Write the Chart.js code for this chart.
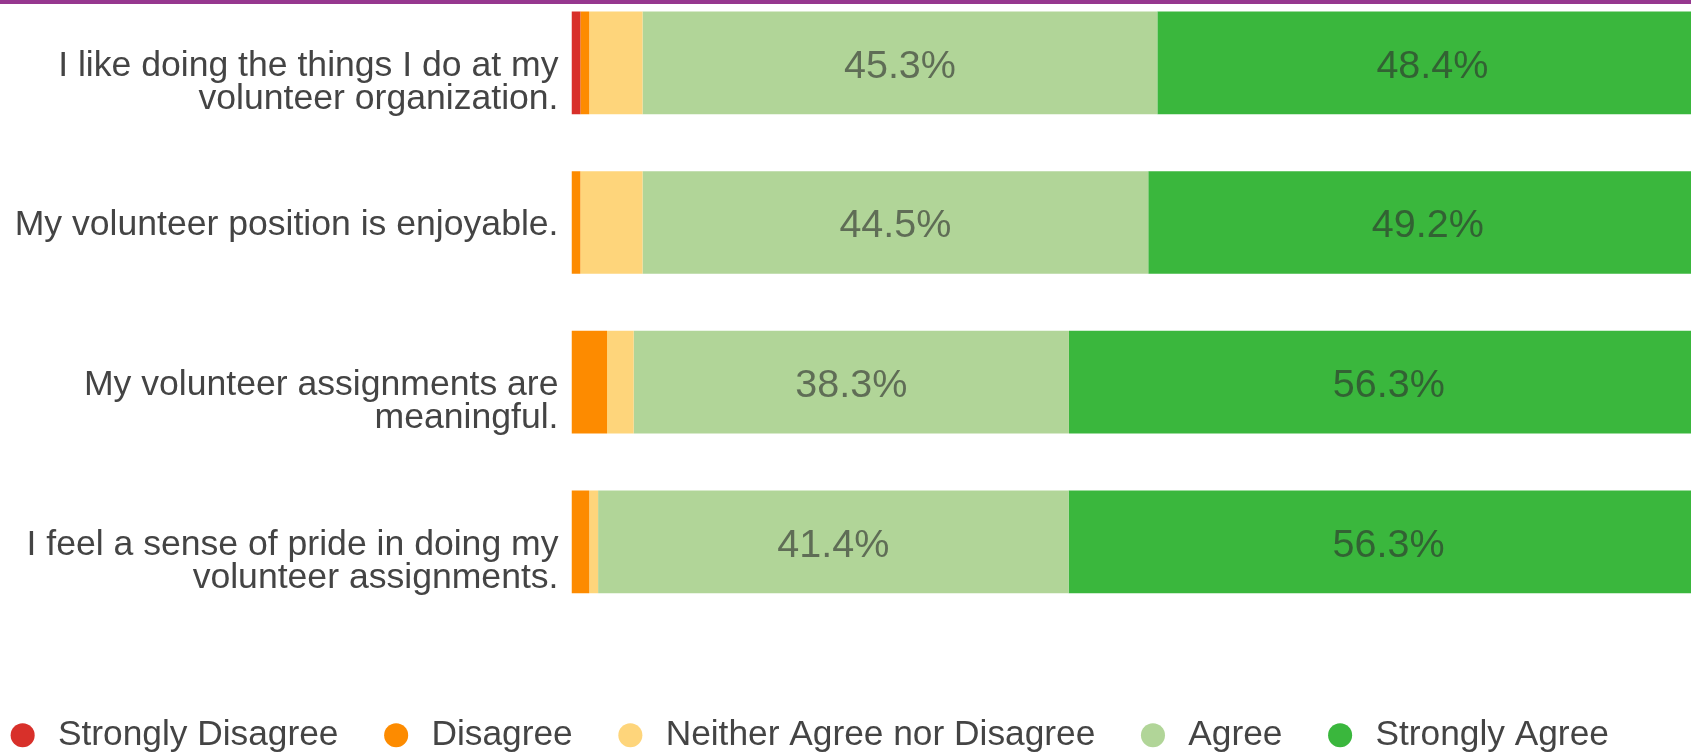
<!DOCTYPE html>
<html>
<head>
<meta charset="utf-8">
<script src="https://cdn.jsdelivr.net/npm/chart.js@4/dist/chart.umd.min.js"></script>
<style>
  html, body { margin: 0; padding: 0; background: #ffffff; overflow: hidden; width: 1691px; height: 752px; }
  #topline { position: absolute; left: 0; top: 0; width: 1691px; height: 4px; background: #96378f; z-index: 2; }
  #wrap { position: absolute; left: -35px; top: -30px; width: 1745px; height: 793px; }
</style>
</head>
<body>
<div id="topline"></div>
<div id="wrap"><canvas id="c" width="1745" height="793"></canvas></div>
<script>
// ---- data ----
const categories = [
  ["I like doing the things I do at my", "volunteer organization."],
  ["My volunteer position is enjoyable."],
  ["My volunteer assignments are", "meaningful."],
  ["I feel a sense of pride in doing my", "volunteer assignments."]
];
const seriesNames = ["Strongly Disagree", "Disagree", "Neither Agree nor Disagree", "Agree", "Strongly Agree"];
const stronglyDisagree = [0.78, 0, 0, 0];
const disagree         = [0.78, 0.78, 3.13, 1.56];
const neither          = [4.69, 5.47, 2.34, 0.78];
const agree            = [45.3, 44.5, 38.3, 41.4];
const stronglyAgree    = [48.4, 49.2, 56.3, 56.3];
const seriesColors = ["#d8302a", "#fd8b00", "#fed57b", "#b1d598", "#3ab73d"];

const FONT = "'Liberation Sans', Arial, Helvetica, sans-serif";

const valueLabels = {
  id: 'valueLabels',
  afterDatasetsDraw(chart) {
    const ctx = chart.ctx;
    ctx.save();
    ctx.font = "39.5px " + FONT;
    ctx.textAlign = 'center';
    ctx.textBaseline = 'middle';
    ctx.fillStyle = 'rgba(45,45,45,0.62)';
    chart.data.datasets.forEach((ds, di) => {
      const meta = chart.getDatasetMeta(di);
      meta.data.forEach((el, i) => {
        const v = ds.data[i];
        if (v >= 10) {
          const cx = (el.x + el.base) / 2;
          ctx.fillText(v.toFixed(1) + '%', cx, el.y + 4);
        }
      });
    });
    ctx.restore();
  }
};

const allSeries = [stronglyDisagree, disagree, neither, agree, stronglyAgree];

new Chart(document.getElementById('c'), {
  type: 'bar',
  data: {
    labels: categories,
    datasets: allSeries.map((d, i) => ({
      label: seriesNames[i],
      data: d,
      backgroundColor: seriesColors[i],
      borderWidth: 0,
      categoryPercentage: 1.0,
      barPercentage: 0.643
    }))
  },
  options: {
    indexAxis: 'y',
    responsive: false,
    animation: false,
    devicePixelRatio: 1,
    layout: { padding: { top: 13, right: 2, left: 0, bottom: 0 } },
    scales: {
      x: {
        stacked: true,
        min: 0,
        max: 100,
        display: true,
        grid: { display: false, drawTicks: false },
        border: { display: false },
        ticks: { display: false },
        afterFit(scale) {
          scale.height = 56;
          scale.paddingLeft = 0; scale.paddingRight = 0;
        }
      },
      y: {
        stacked: true,
        grid: { display: false, drawTicks: false },
        border: { display: false },
        ticks: {
          padding: 13,
          labelOffset: 3,
          color: '#444444',
          font: { family: FONT, size: 35.6, lineHeight: 0.94 },
          callback(value, index) {
            const lines = categories[index];
            return lines.length > 1 ? [''].concat(lines) : lines;
          }
        },
        afterFit(scale) {
          scale.width = 606.5;
          scale.paddingTop = 0; scale.paddingBottom = 0;
        }
      }
    },
    plugins: {
      tooltip: { enabled: false },
      legend: {
        position: 'bottom',
        align: 'start',
        labels: {
          usePointStyle: true,
          pointStyle: 'circle',
          boxWidth: 35.3,
          boxHeight: 17,
          padding: 40,
          color: '#444444',
          font: { family: FONT, size: 35.3 }
        }
      }
    }
  },
  plugins: [valueLabels]
});
</script>
</body>
</html>
